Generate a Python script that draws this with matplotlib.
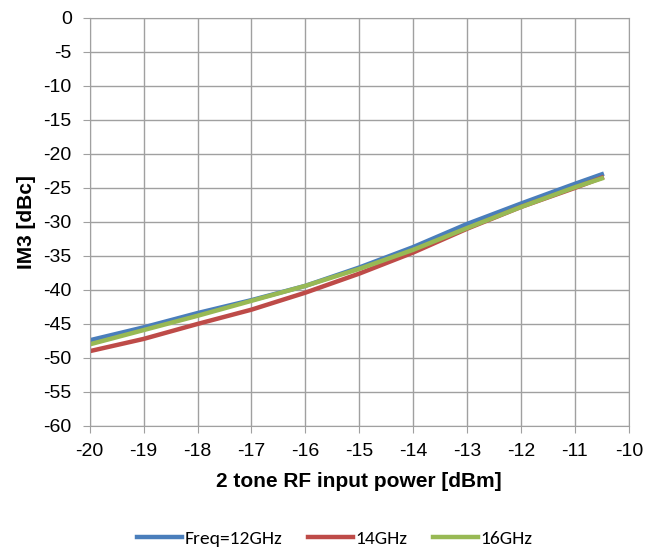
import matplotlib
matplotlib.use("Agg")
import matplotlib.pyplot as plt

power = [-20, -19, -18, -17, -16, -15, -14, -13, -12, -11, -10.5]
im3_12 = [-47.4, -45.5, -43.4, -41.5, -39.4, -36.7, -33.7, -30.3, -27.3, -24.4, -23.0]
im3_14 = [-49.0, -47.2, -45.0, -42.9, -40.4, -37.6, -34.5, -31.0, -27.8, -25.0, -23.5]
im3_16 = [-48.0, -45.9, -43.8, -41.6, -39.4, -36.9, -34.1, -30.9, -27.8, -24.9, -23.6]

plt.rcParams["font.family"] = ["Liberation Sans", "DejaVu Sans"]
plt.rcParams["axes.unicode_minus"] = False

fig = plt.figure(figsize=(6.55, 5.5), dpi=100)
ax = fig.add_axes([0.137, 0.2255, 0.823, 0.742])

ax.plot(power, im3_12, color="#4a7ebb", lw=3.2, label="Freq=12GHz")
ax.plot(power, im3_14, color="#be4b48", lw=3.2, label="14GHz")
ax.plot(power, im3_16, color="#98b954", lw=3.2, label="16GHz")

ax.set_xlim(-20, -10)
ax.set_ylim(-60, 0)
ax.set_xticks(range(-20, -9))
ax.set_yticks(range(-60, 1, 5))
ax.grid(True, color="#a0a0a0", lw=1)
ax.set_axisbelow(True)
for s in ax.spines.values():
    s.set_color("#a0a0a0")
ax.tick_params(labelsize=14, color="#a0a0a0", length=5, pad=8)
ax.tick_params(axis="x", pad=7)

ax.set_xlabel("2 tone RF input power [dBm]", fontsize=15, fontweight="bold", labelpad=9)
ax.set_ylabel("IM3 [dBc]", fontsize=15, fontweight="bold", labelpad=5)

ax.legend(loc="center", bbox_to_anchor=(0.455, -0.275), ncol=3, frameon=False,
          handlelength=2.3, handletextpad=0.15, columnspacing=1.3,
          prop={"family": ["Carlito", "Open Sans", "DejaVu Sans"], "size": 14})

fig.savefig("out.png", dpi=100)
